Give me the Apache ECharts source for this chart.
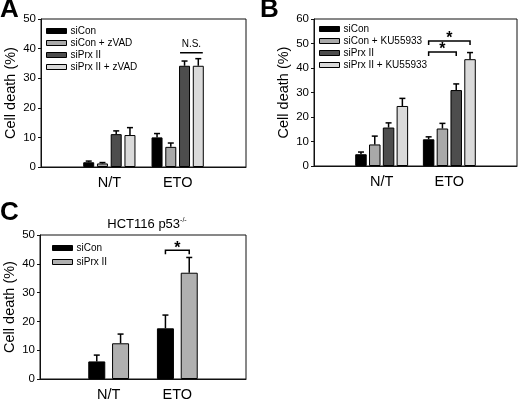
<!DOCTYPE html>
<html><head><meta charset="utf-8">
<script src="https://cdn.jsdelivr.net/npm/echarts@6/dist/echarts.min.js"></script>
<style>html,body{margin:0;padding:0;background:#fff}#c{width:520px;height:402px}</style>
</head><body><div id="c"></div><script>
// ---------- data ----------
const groups = ['N/T', 'ETO'];
const yTitle = 'Cell death (%)';

// Panel A
const aNames = ['siCon', 'siCon + zVAD', 'siPrx II', 'siPrx II + zVAD'];
const aSiCon = [1.6, 10.0];      const aSiConErr = [0.4, 1.3];
const aSiConZ = [1.2, 6.8];      const aSiConZErr = [0.3, 1.3];
const aSiPrx = [11.1, 34.2];     const aSiPrxErr = [1.1, 1.6];
const aSiPrxZ = [10.8, 34.2];    const aSiPrxZErr = [2.5, 2.4];
const aSigCat = ['ETO']; const aSigY = [38.6]; const aSigFrom = [2]; const aSigTo = [3]; const aSigText = ['N.S.'];

// Panel B
const bNames = ['siCon', 'siCon + KU55933', 'siPrx II', 'siPrx II + KU55933'];
const bSiCon = [4.8, 10.9];      const bSiConErr = [0.9, 1.0];
const bSiConK = [8.8, 15.3];     const bSiConKErr = [3.4, 2.1];
const bSiPrx = [15.7, 31.0];     const bSiPrxErr = [1.9, 2.5];
const bSiPrxK = [24.5, 43.6];    const bSiPrxKErr = [3.1, 2.7];
const bSigCat = ['ETO', 'ETO']; const bSigY = [51.0, 46.5]; const bSigFrom = [0, 0]; const bSigTo = [3, 2]; const bSigText = ['*', '*'];

// Panel C
const cTitle = 'HCT116 p53';
const cTitleSup = '-/-';
const cNames = ['siCon', 'siPrx II'];
const cSiCon = [6.1, 17.6];      const cSiConErr = [2.2, 4.6];
const cSiPrx = [12.4, 36.9];     const cSiPrxErr = [3.2, 5.3];
const cSigCat = ['ETO']; const cSigY = [44.7]; const cSigFrom = [0]; const cSigTo = [1]; const cSigText = ['*'];

const yMax = [50, 60, 50];
const yStep = 10;

// ---------- styling ----------
const FONT = 'Liberation Sans';
const cats = [''].concat(groups, ['']);
const panels = [
  {names: aNames, means: [aSiCon, aSiConZ, aSiPrx, aSiPrxZ], errs: [aSiConErr, aSiConZErr, aSiPrxErr, aSiPrxZErr],
   colors: ['#000000', '#a9a9a9', '#4d4d4d', '#dadada'], bw: 11, gap: 0.25,
   sig: {cat: aSigCat, y: aSigY, from: aSigFrom, to: aSigTo, text: aSigText},
   grid: {left: 41, right: 274, top: 19, bottom: 235}, legend: {left: 46, top: 26, gap: 2}},
  {names: bNames, means: [bSiCon, bSiConK, bSiPrx, bSiPrxK], errs: [bSiConErr, bSiConKErr, bSiPrxErr, bSiPrxKErr],
   colors: ['#000000', '#a9a9a9', '#4d4d4d', '#dadada'], bw: 11.5, gap: 0.2,
   sig: {cat: bSigCat, y: bSigY, from: bSigFrom, to: bSigTo, text: bSigText},
   grid: {left: 314, right: 1, top: 19, bottom: 236}, legend: {left: 319, top: 24, gap: 2}},
  {names: cNames, means: [cSiCon, cSiPrx], errs: [cSiConErr, cSiPrxErr],
   colors: ['#000000', '#b0b0b0'], bw: 17, gap: 0.4,
   sig: {cat: cSigCat, y: cSigY, from: cSigFrom, to: cSigTo, text: cSigText},
   grid: {left: 40, right: 274, top: 235, bottom: 20}, legend: {left: 52, top: 243, gap: 4}}
];

function barOffset(p, k) {
  const n = p.names.length;
  const total = n * p.bw + (n - 1) * p.bw * p.gap;
  return -total / 2 + k * p.bw * (1 + p.gap) + p.bw / 2;
}

const grids = [], xAxes = [], yAxes = [], legends = [], series = [];
panels.forEach((p, gi) => {
  grids.push(Object.assign({show: true, borderColor: '#111', borderWidth: 1, backgroundColor: 'transparent'}, p.grid));
  xAxes.push({type: 'category', gridIndex: gi, data: cats, boundaryGap: false,
    axisLine: {lineStyle: {color: '#111', width: 1}}, axisTick: {show: false},
    axisLabel: {interval: 0, fontSize: 14.5, color: '#000', margin: 8, fontFamily: FONT},
    splitLine: {show: false}});
  yAxes.push({type: 'value', gridIndex: gi, min: 0, max: yMax[gi], interval: yStep,
    axisLine: {show: true, lineStyle: {color: '#111', width: 1}},
    axisTick: {show: true, length: 3, lineStyle: {color: '#111'}},
    axisLabel: {fontSize: 11.5, color: '#000', margin: 5, fontFamily: FONT},
    splitLine: {show: false},
    name: yTitle, nameLocation: 'middle', nameGap: 23,
    nameTextStyle: {fontSize: 14.5, color: '#000', fontFamily: FONT}});
  legends.push({orient: 'vertical', left: p.legend.left, top: p.legend.top, itemWidth: 20, itemHeight: 5,
    itemGap: p.legend.gap, selectedMode: false, icon: 'rect', padding: 0,
    textStyle: {fontSize: 10, color: '#000', fontFamily: FONT, padding: [0, 0, 0, -1]},
    data: p.names.map((nm, k) => ({name: nm, itemStyle: {color: p.colors[k], borderColor: '#000', borderWidth: 1}}))});
  p.names.forEach((nm, k) => {
    series.push({type: 'bar', name: nm, xAxisIndex: gi, yAxisIndex: gi, barWidth: p.bw,
      barGap: (p.gap * 100) + '%',
      data: ['-'].concat(p.means[k], ['-']),
      itemStyle: {color: p.colors[k], borderColor: '#000', borderWidth: 1},
      emphasis: {disabled: true}, z: 2});
  });
  const errData = [];
  p.names.forEach((nm, k) => p.means[k].forEach((v, j) => errData.push([j + 1, v, p.errs[k][j], k])));
  series.push({type: 'custom', name: 'err' + gi, xAxisIndex: gi, yAxisIndex: gi, data: errData,
    encode: {x: 0, y: 1}, z: 5, silent: true,
    renderItem: (params, api) => {
      const cat = api.value(0), v = api.value(1), e = api.value(2), k = api.value(3);
      const base = api.coord([cat, v]);
      const top = api.coord([cat, v + e]);
      const x = base[0] + barOffset(p, k);
      return {type: 'group', children: [
        {type: 'line', shape: {x1: x, y1: base[1], x2: x, y2: top[1]}, style: {stroke: '#000', lineWidth: 1.5}},
        {type: 'line', shape: {x1: x - 3, y1: top[1], x2: x + 3, y2: top[1]}, style: {stroke: '#000', lineWidth: 1.5}}
      ]};
    }});
  const sigData = p.sig.cat.map((c, i) => [cats.indexOf(c), p.sig.y[i], p.sig.from[i], p.sig.to[i]]);
  series.push({type: 'custom', name: 'sig' + gi, xAxisIndex: gi, yAxisIndex: gi, data: sigData,
    encode: {x: 0, y: 1}, z: 6, silent: true, clip: false,
    renderItem: (params, api) => {
      const cat = api.value(0), y = api.value(1), f = api.value(2), t = api.value(3);
      const pt = api.coord([cat, y]);
      const txt = p.sig.text[params.dataIndex];
      const x1 = pt[0] + barOffset(p, f), x2 = pt[0] + barOffset(p, t);
      if (txt === 'N.S.') {
        const l = x1 - p.bw / 2 + 1, r = x2 + p.bw / 2 - 1;
        return {type: 'group', children: [
          {type: 'line', shape: {x1: l, y1: pt[1], x2: r, y2: pt[1]}, style: {stroke: '#000', lineWidth: 1.5}},
          {type: 'text', style: {text: txt, x: (l + r) / 2, y: pt[1] - 3, align: 'center', verticalAlign: 'bottom',
            font: '10px ' + FONT, fill: '#000'}}
        ]};
      }
      return {type: 'group', children: [
        {type: 'polyline', shape: {points: [[x1, pt[1] + 4], [x1, pt[1]], [x2, pt[1]], [x2, pt[1] + 4]]},
          style: {stroke: '#000', lineWidth: 1.5, fill: null}},
        {type: 'text', style: {text: txt, x: (x1 + x2) / 2, y: pt[1] - 2, align: 'center', verticalAlign: 'middle',
          font: 'bold 16px ' + FONT, fill: '#000'}}
      ]};
    }});
});

const chart = echarts.init(document.getElementById('c'), null, {renderer: 'canvas'});
chart.setOption({
  animation: false,
  backgroundColor: '#fff',
  textStyle: {fontFamily: FONT},
  grid: grids, xAxis: xAxes, yAxis: yAxes, legend: legends, series: series,
  graphic: [
    {type: 'text', left: 0, top: -3, style: {text: 'A', font: 'bold 26px ' + FONT, fill: '#000'}},
    {type: 'text', left: 260, top: -3, style: {text: 'B', font: 'bold 26px ' + FONT, fill: '#000'}},
    {type: 'text', left: 0, top: 200, style: {text: 'C', font: 'bold 26px ' + FONT, fill: '#000'}},
    {type: 'text', x: 147, y: 224, style: {text: '{a|' + cTitle + '}{s|' + cTitleSup + '}', align: 'center', verticalAlign: 'middle',
      rich: {a: {fontSize: 13, fontFamily: FONT, fill: '#000', lineHeight: 14}, s: {fontSize: 7, fontFamily: FONT, verticalAlign: 'top', fill: '#000'}}}}
  ]
});
</script></body></html>
